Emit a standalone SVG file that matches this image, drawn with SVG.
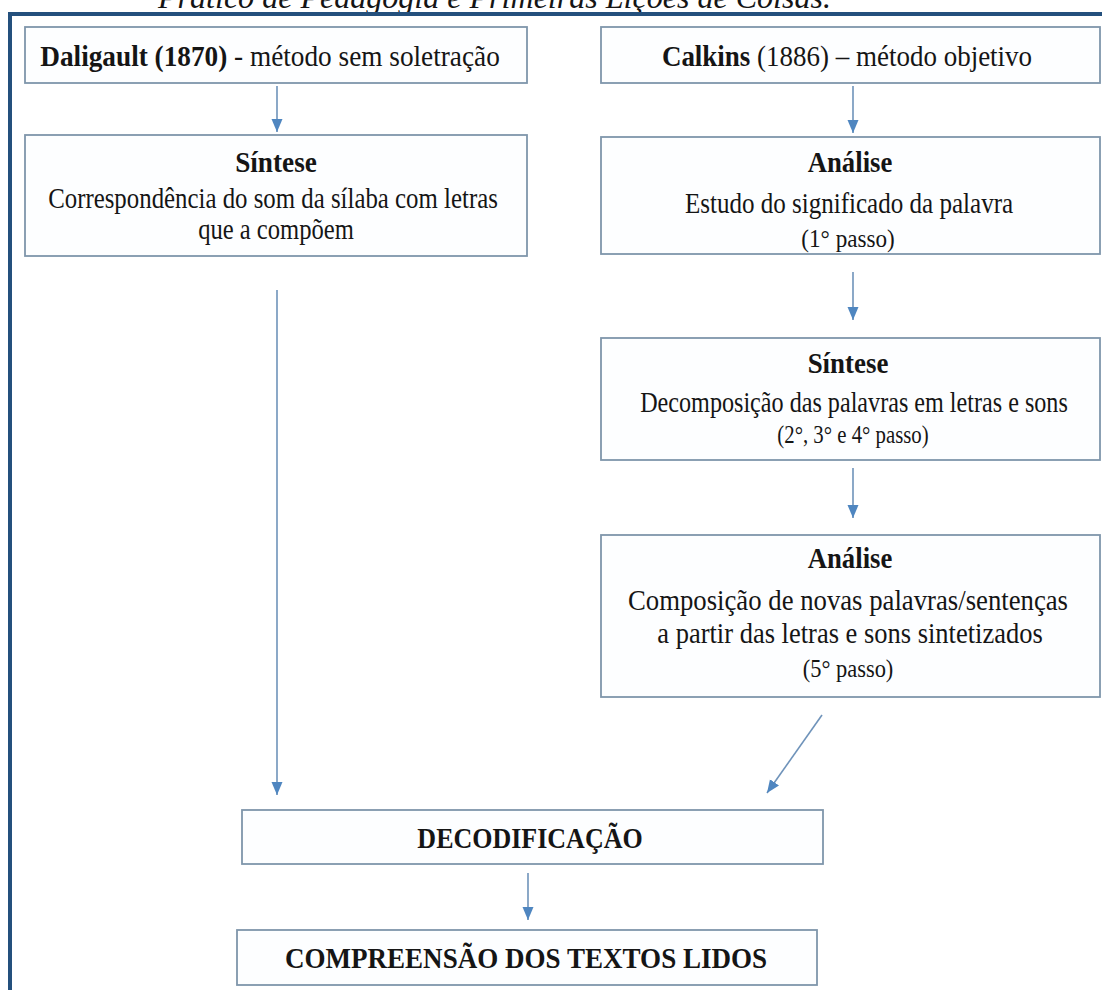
<svg xmlns="http://www.w3.org/2000/svg" width="1102" height="990" viewBox="0 0 1102 990">
<style>
text{font-family:"Liberation Serif","Times New Roman",serif;fill:#151515;}
.box{fill:#fdfeff;stroke:#7f96ab;stroke-width:1.8;}
.t{font-size:30px;text-anchor:middle;}
.s{font-size:26px;text-anchor:middle;}
.b{font-weight:bold;}
.con{stroke:#6f93ba;stroke-width:1.6;fill:none;marker-end:url(#ah);}
</style>
<defs>
<marker id="ah" markerUnits="userSpaceOnUse" markerWidth="13" markerHeight="12" refX="13" refY="5.5" orient="auto">
<path d="M0,0 L13,5.5 L0,11 Z" fill="#4f86c0"/>
</marker>
</defs>
<rect x="0" y="0" width="1102" height="990" fill="#ffffff"/>
<text x="158" y="8" font-size="31" font-style="italic" textLength="673" lengthAdjust="spacingAndGlyphs">Prático de Pedagogia e Primeiras Lições de Coisas.</text>
<g id="frame">
<rect x="8" y="12" width="1094" height="4" fill="#24507d"/>
<rect x="8" y="12" width="4" height="978" fill="#24507d"/>
</g>
<g id="connectors">
<line class="con" x1="277" y1="86" x2="277" y2="132"/>
<line class="con" x1="853" y1="86" x2="853" y2="133"/>
<line class="con" x1="853" y1="272" x2="853" y2="320"/>
<line class="con" x1="853" y1="468" x2="853" y2="518"/>
<line class="con" x1="822" y1="715" x2="767" y2="793"/>
<line class="con" x1="277" y1="290" x2="277" y2="795"/>
<line class="con" x1="528" y1="873" x2="528" y2="920"/>
</g>
<g id="daligault">
<rect class="box" x="25" y="27" width="502" height="56"/>
<text class="t" transform="translate(270,66) scale(0.909,1)"><tspan class="b">Daligault (1870)</tspan> - método sem soletração</text>
</g>
<g id="calkins">
<rect class="box" x="601" y="27" width="499" height="56"/>
<text class="t" transform="translate(847,66) scale(0.9,1)"><tspan class="b">Calkins</tspan> (1886) – método objetivo</text>
</g>
<g id="sintese-left">
<rect class="box" x="25" y="135" width="502" height="121"/>
<text class="t b" transform="translate(276,172) scale(0.95,1)" textLength="86" lengthAdjust="spacingAndGlyphs">Síntese</text>
<text class="t" transform="translate(273,208) scale(0.88,1)" textLength="511" lengthAdjust="spacingAndGlyphs">Correspondência do som da sílaba com letras</text>
<text class="t" transform="translate(276,239) scale(0.88,1)" textLength="177" lengthAdjust="spacingAndGlyphs">que a compõem</text>
</g>
<g id="analise-1">
<rect class="box" x="601" y="137" width="499" height="117"/>
<text class="t b" transform="translate(850,172) scale(0.95,1)" textLength="89" lengthAdjust="spacingAndGlyphs">Análise</text>
<text class="t" transform="translate(849,213) scale(0.88,1)" textLength="373" lengthAdjust="spacingAndGlyphs">Estudo do significado da palavra</text>
<text class="s" transform="translate(848,247) scale(0.88,1)" textLength="106" lengthAdjust="spacingAndGlyphs">(1° passo)</text>
</g>
<g id="sintese-right">
<rect class="box" x="601" y="338" width="499" height="122"/>
<text class="t b" transform="translate(848,373) scale(0.95,1)" textLength="85" lengthAdjust="spacingAndGlyphs">Síntese</text>
<text class="t" transform="translate(854,412) scale(0.88,1)" textLength="486" lengthAdjust="spacingAndGlyphs">Decomposição das palavras em letras e sons</text>
<text class="s" transform="translate(853,443) scale(0.88,1)" textLength="172" lengthAdjust="spacingAndGlyphs">(2°, 3° e 4° passo)</text>
</g>
<g id="analise-2">
<rect class="box" x="601" y="535" width="499" height="162"/>
<text class="t b" transform="translate(850,568) scale(0.95,1)" textLength="89" lengthAdjust="spacingAndGlyphs">Análise</text>
<text class="t" transform="translate(848,610) scale(0.88,1)" textLength="500" lengthAdjust="spacingAndGlyphs">Composição de novas palavras/sentenças</text>
<text class="t" transform="translate(850,643) scale(0.88,1)" textLength="438" lengthAdjust="spacingAndGlyphs">a partir das letras e sons sintetizados</text>
<text class="s" transform="translate(848,677) scale(0.88,1)" textLength="103" lengthAdjust="spacingAndGlyphs">(5° passo)</text>
</g>
<g id="decodificacao">
<rect class="box" x="242" y="810" width="581" height="54"/>
<text class="t b" transform="translate(530,848) scale(0.88,1)" textLength="256" lengthAdjust="spacingAndGlyphs">DECODIFICAÇÃO</text>
</g>
<g id="compreensao">
<rect class="box" x="237" y="930" width="580" height="55"/>
<text class="t b" transform="translate(526,968) scale(0.88,1)" textLength="548" lengthAdjust="spacingAndGlyphs">COMPREENSÃO DOS TEXTOS LIDOS</text>
</g>
</svg>
